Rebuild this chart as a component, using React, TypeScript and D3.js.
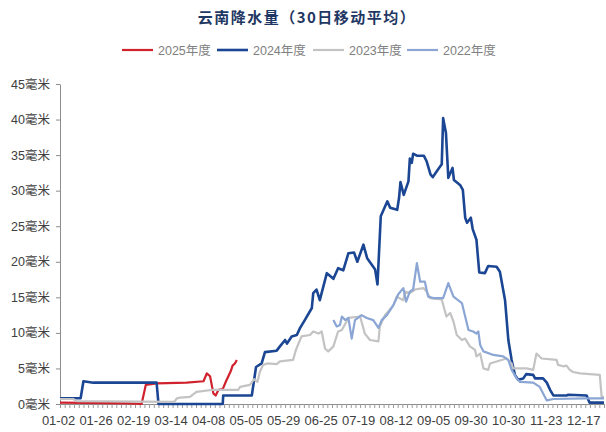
import { useEffect, useRef } from "react";
import * as d3 from "d3";

// x is measured in axis steps: one small tick per step, a date label every 8 steps
const tickLabels = [
  "01-02", "01-26", "02-19", "03-14", "04-08", "05-05", "05-29", "06-25",
  "07-19", "08-12", "09-05", "09-30", "10-30", "11-23", "12-17",
];
const yTicks = [0, 5, 10, 15, 20, 25, 30, 35, 40, 45];

// [step, millimetres]
const s2025: [number, number][] = [
  [0, 0.2], [14.6, 0.1], [17.4, 0], [18.3, 2.7], [20.6, 2.9], [27.0, 3.0],
  [30.6, 3.2], [31.3, 4.3], [32.0, 3.9], [32.7, 1.5], [33.2, 1.2], [33.8, 2.0],
  [34.7, 2.1], [35.4, 3.2], [36.4, 4.6], [36.8, 5.4], [37.3, 5.7], [37.7, 6.2],
];

const s2024: [number, number][] = [
  [0, 0.8], [4.4, 0.8], [5.0, 3.2], [7.1, 3.0], [20.6, 3.0], [21.0, 0],
  [34.7, 0], [34.8, 1.2], [40.9, 1.2], [41.8, 5.2], [43.0, 5.7], [43.7, 7.3],
  [46.2, 7.5], [46.9, 8.1], [48.0, 9.0], [48.4, 8.5], [49.4, 9.5], [50.5, 9.7],
  [51.2, 10.7], [52.2, 11.8], [53.7, 13.5], [54.0, 15.6], [54.7, 16.1],
  [55.4, 14.6], [56.9, 18.4], [58.3, 17.6], [59.3, 19.1], [60.4, 18.8],
  [61.5, 21.2], [62.7, 21.3], [63.4, 20.0], [64.7, 22.4], [65.5, 20.5],
  [67.2, 18.9], [67.7, 16.8], [68.4, 26.4], [69.8, 28.5], [70.4, 27.6],
  [71.9, 27.3], [72.3, 29.0], [72.6, 31.2], [73.3, 29.4], [74.3, 31.3],
  [74.6, 34.5], [75.0, 33.9], [75.3, 35.2], [76.2, 34.9], [77.6, 34.9],
  [78.2, 34.1], [79.0, 32.3], [79.5, 31.9], [80.3, 32.7], [81.4, 33.7],
  [81.7, 40.2], [82.3, 38.1], [82.8, 31.8], [83.7, 33.2], [84.0, 31.5],
  [85.3, 30.8], [85.9, 30.1], [86.4, 26.2], [86.8, 25.5], [87.6, 26.2],
  [88.0, 24.6], [88.8, 23.1], [89.4, 18.5], [90.6, 18.4], [91.3, 19.4],
  [93.1, 19.3], [93.8, 18.6], [94.9, 14.6], [95.6, 9.0], [96.3, 6.2],
  [97.0, 4.1], [97.7, 3.4], [98.8, 3.6], [99.4, 4.2], [100.9, 4.1],
  [101.3, 3.6], [103.0, 3.6], [103.8, 3.0], [104.5, 2.0], [105.2, 1.2],
  [108.0, 1.2], [108.4, 1.3], [112.3, 1.2], [112.9, 0.2], [116, 0.2],
];

const s2023: [number, number][] = [
  [0, 0.7], [2.8, 0.7], [3.6, 0.4], [24.1, 0.3], [24.5, 0.4], [24.9, 0.8],
  [25.6, 0.9], [27.7, 1.0], [29.1, 1.7], [32.7, 2.0], [38.0, 2.0], [38.4, 2.4],
  [40.5, 2.7], [41.4, 3.5], [42.1, 3.1], [42.6, 4.5], [43.3, 5.5], [44.2, 5.7],
  [46.2, 5.6], [46.9, 6.0], [49.7, 6.2], [50.3, 7.6], [50.8, 8.4], [51.5, 9.5],
  [53.3, 9.7], [54.0, 10.2], [55.1, 9.9], [55.8, 10.2], [56.5, 7.8],
  [57.2, 7.4], [58.3, 8.1], [59.3, 10.2], [60.1, 10.4], [61.5, 12.1],
  [64.0, 12.3], [65.0, 9.9], [66.1, 9.0], [67.9, 8.8], [68.2, 10.9],
  [69.3, 12.5], [70.0, 13.0], [71.1, 13.9], [71.8, 15.1], [73.2, 14.6],
  [73.6, 15.8], [74.6, 15.6], [75.7, 16.1], [77.5, 16.3], [78.2, 15.8],
  [78.9, 14.9], [81.4, 14.7], [82.1, 13.0], [82.4, 12.3], [83.2, 12.8],
  [83.9, 11.6], [84.6, 9.7], [85.7, 9.0], [86.4, 9.2], [87.4, 8.1],
  [88.5, 7.6], [88.8, 6.7], [89.6, 7.1], [90.3, 5.0], [91.3, 4.8], [91.7, 5.7],
  [95.2, 6.4], [96.3, 5.7], [96.6, 5.0], [99.5, 5.0], [100.9, 4.8],
  [101.6, 7.1], [102.7, 6.4], [105.9, 6.2], [106.2, 5.5], [107.3, 5.3],
  [108.0, 5.4], [108.7, 4.8], [109.4, 4.5], [110.9, 4.3], [115.1, 4.1],
  [115.5, 1.0], [116, 1.0],
];

const s2022: [number, number][] = [
  [58.3, 11.8], [59.0, 10.9], [59.7, 11.1], [60.1, 12.3], [60.8, 11.8],
  [61.5, 12.1], [62.2, 9.2], [62.9, 11.8], [64.3, 12.5], [65.4, 12.1],
  [66.8, 11.8], [67.9, 10.7], [68.6, 11.8], [69.7, 12.5], [71.1, 13.9],
  [72.1, 15.4], [73.2, 16.3], [73.8, 14.4], [74.6, 15.8], [75.3, 16.1],
  [76.1, 19.8], [76.8, 17.2], [77.8, 17.2], [78.5, 15.1], [79.6, 14.9],
  [81.7, 14.9], [82.8, 17.0], [83.2, 16.3], [83.9, 15.1], [85.7, 14.2],
  [87.1, 10.4], [88.1, 10.2], [88.8, 9.9], [89.2, 10.2], [89.6, 8.3],
  [90.3, 7.4], [92.4, 6.9], [94.5, 6.7], [95.6, 6.2], [96.3, 4.8], [97.4, 3.6],
  [98.1, 3.1], [100.9, 3.0], [102.3, 2.4], [103.8, 0.5], [105.2, 0.7],
  [112.3, 0.8], [116, 0.8],
];

const seriesNames = ["2025年度", "2024年度", "2023年度", "2022年度"];
const seriesData = [s2025, s2024, s2023, s2022];
const seriesColors = ["#d0222d", "#1b4693", "#c3c3c3", "#8ba6d4"];
const seriesWidths = [2.2, 2.6, 2.2, 2.2];

export default function App() {
  const svgRef = useRef<SVGSVGElement>(null);
  const width = 606;
  const height = 432;

  useEffect(() => {
    if (!svgRef.current) return;
    const svg = d3.select(svgRef.current);
    svg.selectAll("*").remove();

    const font = "'Liberation Sans', 'Noto Sans CJK SC', sans-serif";

    const x = d3.scaleLinear().domain([0, 116]).range([60, 604]);
    const y = d3.scaleLinear().domain([0, 45]).range([404, 84]);

    // title
    svg
      .append("text")
      .attr("x", 307)
      .attr("y", 23)
      .attr("text-anchor", "middle")
      .attr("font-family", "'Noto Sans CJK SC', sans-serif")
      .attr("font-weight", 700)
      .attr("font-size", 15)
      .attr("letter-spacing", 1.5)
      .attr("fill", "#1f3763")
      .text("云南降水量（30日移动平均）");

    // legend
    const legendX = [122, 217, 313, 407];
    seriesNames.forEach((name, i) => {
      const lg = svg.append("g").attr("transform", `translate(${legendX[i]},50)`);
      lg.append("line")
        .attr("x1", 0)
        .attr("x2", 31)
        .attr("stroke", seriesColors[i])
        .attr("stroke-width", seriesWidths[i]);
      lg.append("text")
        .attr("x", 36)
        .attr("y", 4.5)
        .attr("font-family", font)
        .attr("font-size", 12.5)
        .attr("fill", "#808080")
        .text(name);
    });

    // y axis
    const yAxis = svg
      .append("g")
      .attr("transform", "translate(60,0)")
      .call(
        d3
          .axisLeft(y)
          .tickValues(yTicks)
          .tickSize(4)
          .tickSizeOuter(0)
          .tickPadding(6)
          .tickFormat((d) => `${d}毫米`)
      );
    yAxis.select(".domain").attr("stroke", "#8c8c8c");
    yAxis.selectAll(".tick line").attr("stroke", "#8c8c8c");
    yAxis
      .selectAll("text")
      .attr("font-family", font)
      .attr("font-size", 12.5)
      .attr("fill", "#404040");

    // x axis
    const xAxis = svg
      .append("g")
      .attr("transform", `translate(0,${y(0)})`)
      .call(
        d3
          .axisBottom(x)
          .tickValues(d3.range(0, 117))
          .tickSize(4)
          .tickSizeOuter(0)
          .tickPadding(8)
          .tickFormat((d) => (+d % 8 === 0 ? tickLabels[+d / 8] ?? "" : ""))
      );
    xAxis.select(".domain").attr("stroke", "#8c8c8c");
    xAxis.selectAll(".tick line").attr("stroke", "#9a9a9a");
    xAxis
      .selectAll("text")
      .attr("font-family", font)
      .attr("font-size", 13)
      .attr("fill", "#404040")
      .attr("dx", -2);

    // lines (later series drawn on top)
    const line = d3
      .line<[number, number]>()
      .x((d) => x(d[0]))
      .y((d) => y(d[1]));

    seriesData.forEach((data, i) => {
      svg
        .append("path")
        .datum(data)
        .attr("fill", "none")
        .attr("stroke", seriesColors[i])
        .attr("stroke-width", seriesWidths[i])
        .attr("stroke-linejoin", "round")
        .attr("d", line);
    });
  }, []);

  return (
    <svg
      ref={svgRef}
      width={width}
      height={height}
      style={{ position: "absolute", left: 0, top: 0, background: "#fff" }}
    />
  );
}
